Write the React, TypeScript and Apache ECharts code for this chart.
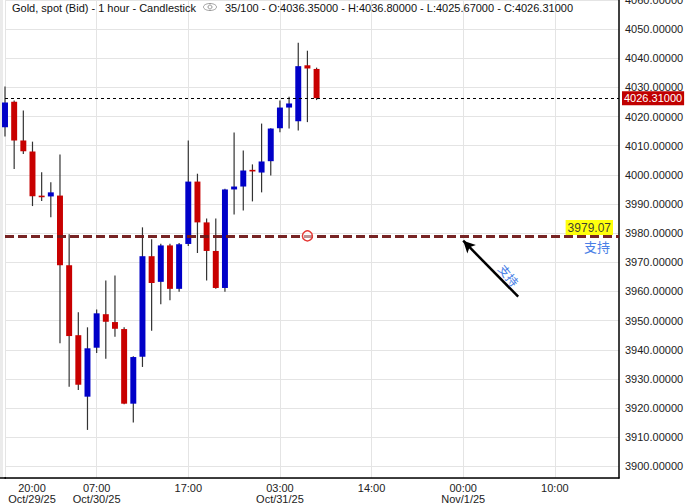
import React, { useEffect, useRef } from "react";
import * as echarts from "echarts";

// ---- data ----
const opens = [4016.3, 4025.1, 4011.8, 4008.0, 3992.8, 3992.6, 3992.9, 3969.0, 3945.0, 3923.9, 3940.7, 3952.2, 3949.5, 3947.1, 3921.5, 3937.6, 3972.1, 3963.3, 3975.8, 3960.9, 3976.3, 3997.7, 3983.7, 3973.9, 3961.2, 3995.0, 3996.0, 4001.6, 4000.8, 4004.7, 4016.0, 4023.1, 4018.4, 4037.6, 4036.35];
const closes = [4024.8, 4011.8, 4008.1, 3992.7, 3992.4, 3994.0, 3969.0, 3944.7, 3928.0, 3940.5, 3952.5, 3949.6, 3947.2, 3921.5, 3937.5, 3972.1, 3962.9, 3975.8, 3960.9, 3976.2, 3997.7, 3983.7, 3973.9, 3961.2, 3995.0, 3996.0, 4001.5, 4001.3, 4004.6, 4015.9, 4023.1, 4024.5, 4037.3, 4036.5, 4026.31];
const lows = [4013.2, 4002.0, 4007.2, 3989.3, 3991.0, 3985.5, 3942.2, 3927.3, 3926.2, 3912.5, 3938.9, 3936.9, 3944.5, 3921.3, 3915.0, 3934.1, 3946.5, 3955.6, 3957.0, 3959.9, 3975.6, 3973.2, 3963.8, 3960.9, 3959.9, 3986.4, 3987.8, 3990.9, 3994.0, 3999.8, 4014.6, 4015.9, 4015.2, 4018.1, 4025.67];
const highs = [4030.3, 4025.5, 4022.1, 4011.4, 4000.9, 3997.5, 4007.0, 3979.6, 3952.9, 3947.7, 3953.8, 3963.8, 3965.5, 3947.7, 3937.8, 3982.0, 3977.9, 3976.4, 3976.4, 3976.6, 4011.8, 4000.4, 3985.0, 3985.0, 3995.2, 4014.5, 4008.4, 4003.6, 4017.6, 4016.0, 4025.5, 4026.8, 4045.3, 4042.6, 4036.8];

const slotCount = 68; // hourly slots visible on the axis
const categories = Array.from({ length: slotCount }, (_, i) => String(i));
const tickLabels = [
  ["20:00", "Oct/29/25"],
  ["07:00", "Oct/30/25"],
  ["17:00", ""],
  ["03:00", "Oct/31/25"],
  ["14:00", ""],
  ["00:00", "Nov/1/25"],
  ["10:00", ""],
];
const tickEvery = 10;

const lastClose = 4026.31;
const supportLevel = 3979.07;
const supportLabel = "3979.07";
const supportText = "支持";
const markerIndex = 33;
const arrowFrom = [56, 3958.2];
const arrowTo = [50, 3977.4];

const headerLeft = "Gold, spot (Bid) - 1 hour - Candlestick";
const headerRight = "35/100 - O:4036.35000 - H:4036.80000 - L:4025.67000 - C:4026.31000";

const UP = "#0000c8";
const DOWN = "#c80000";
const WICK = "#333333";
const FONT = "Liberation Sans, Arial, sans-serif";

export default function App() {
  const ref = useRef<HTMLDivElement>(null);
  useEffect(() => {
    if (!ref.current) return;
    const chart = echarts.init(ref.current, null, { renderer: "svg" });
    const data = opens.map((o, i) => [i, o, closes[i], lows[i], highs[i]]);
    chart.setOption({
      animation: false,
      backgroundColor: "#ffffff",
      grid: { left: 5, right: 67, top: 0, bottom: 25, containLabel: false, outerBoundsMode: "none" },
      xAxis: {
        type: "category",
        data: categories,
        boundaryGap: false,
        axisLine: { show: true, lineStyle: { color: "#000", width: 1.5 } },
        axisTick: { show: false },
        splitLine: { show: true, interval: tickEvery - 1, lineStyle: { color: "#e4e4e4", width: 1 } },
        axisLabel: {
          interval: tickEvery - 1,
          color: "#222",
          fontSize: 11,
          fontFamily: FONT,
          lineHeight: 11,
          margin: 4,
          alignMinLabel: "left",
          formatter: (_v: string, idx: number) => {
            const t = tickLabels[Math.round(idx / tickEvery)];
            if (!t) return "";
            if (idx === 0) return `{f|${t[0]}}\n{f|${t[1]}}`;
            return t[1] ? `${t[0]}\n${t[1]}` : t[0];
          },
          rich: {
            f: { width: 54, align: "center", fontSize: 11, lineHeight: 11, color: "#222", fontFamily: FONT },
          },
        },
      },
      yAxis: {
        type: "value",
        position: "right",
        min: 3896,
        max: 4060,
        splitNumber: 16,
        axisLine: { show: true, lineStyle: { color: "#000", width: 1.5 } },
        axisTick: { show: false },
        splitLine: { show: true, lineStyle: { color: "#e4e4e4", width: 1 } },
        axisLabel: {
          color: "#222",
          fontSize: 11,
          fontFamily: FONT,
          margin: 6,
          showMinLabel: false,
          formatter: (v: number) => v.toFixed(5),
        },
      },
      series: [
        {
          type: "custom",
          data,
          encode: { x: 0, y: [1, 2, 3, 4] },
          clip: false,
          renderItem: (_params: any, api: any) => {
            const x = api.value(0);
            const o = api.value(1);
            const c = api.value(2);
            const l = api.value(3);
            const h = api.value(4);
            const pO = api.coord([x, o]);
            const pC = api.coord([x, c]);
            const pL = api.coord([x, l]);
            const pH = api.coord([x, h]);
            const w = api.size([1, 0])[0] * 0.65;
            const top = Math.min(pO[1], pC[1]);
            let hgt = Math.abs(pO[1] - pC[1]);
            let y0 = top;
            if (hgt < 1.6) {
              y0 = (pO[1] + pC[1]) / 2 - 0.8;
              hgt = 1.6;
            }
            return {
              type: "group",
              children: [
                {
                  type: "line",
                  shape: { x1: pH[0], y1: pH[1], x2: pL[0], y2: pL[1] },
                  style: { stroke: WICK, lineWidth: 1.2 },
                },
                {
                  type: "rect",
                  shape: { x: pO[0] - w / 2, y: y0, width: w, height: hgt },
                  style: { fill: c >= o ? UP : DOWN },
                },
              ],
            };
          },
          markLine: {
            silent: true,
            symbol: ["none", "none"],
            animation: false,
            data: [
              {
                yAxis: lastClose,
                lineStyle: { color: "#000", type: [3, 3], width: 1 },
                label: {
                  show: true,
                  position: "end",
                  formatter: lastClose.toFixed(5),
                  backgroundColor: "#c00000",
                  color: "#fff",
                  fontSize: 11,
                  fontFamily: FONT,
                  padding: [2, 2, 1, 2],
                  distance: 3,
                },
              },
              {
                yAxis: supportLevel,
                lineStyle: { color: "#701818", type: [9, 4], width: 3, opacity: 0.95 },
                label: {
                  show: true,
                  position: "insideEndTop",
                  formatter: supportLabel,
                  backgroundColor: "#ffff00",
                  color: "#333",
                  fontSize: 12,
                  fontFamily: FONT,
                  padding: [2, 2, 1, 2],
                  distance: [6, 1],
                },
              },
              {
                yAxis: supportLevel,
                lineStyle: { color: "rgba(0,0,0,0)", width: 0 },
                label: {
                  show: true,
                  position: "insideEndBottom",
                  formatter: supportText,
                  color: "#4a7fe6",
                  fontSize: 13,
                  fontFamily: "Noto Sans CJK SC",
                  distance: [9, 4],
                },
              },
              [
                { coord: arrowFrom, symbol: "none", lineStyle: { color: "#000", width: 2.5, type: "solid" }, label: { show: false } },
                { coord: arrowTo, symbol: "arrow", symbolSize: [9, 12] },
              ],
            ],
          },
          markPoint: {
            silent: true,
            animation: false,
            data: [
              {
                coord: [markerIndex, supportLevel],
                symbol: "circle",
                symbolSize: 10,
                itemStyle: { color: "rgba(255,255,255,0.5)", borderColor: "#e53935", borderWidth: 1.5 },
                label: { show: false },
              },
            ],
          },
        },
      ],
      graphic: [
        { type: "rect", shape: { x: 0, y: 0, width: 3, height: 478 }, style: { fill: "#ebebeb" }, z: 0 },
        { type: "line", shape: { x1: 0, y1: 478, x2: 6, y2: 478 }, style: { stroke: "#000", lineWidth: 1.5 }, z: 10 },
        {
          type: "text",
          x: 12,
          y: 2,
          style: { text: headerLeft, font: `11px ${FONT}`, fill: "#111", verticalAlign: "top" },
          z: 10,
        },
        {
          type: "group",
          x: 210,
          y: 7,
          z: 10,
          children: [
            { type: "ellipse", shape: { cx: 0, cy: 0, rx: 6.5, ry: 3.5 }, style: { fill: "none", stroke: "#999", lineWidth: 1 } },
            { type: "circle", shape: { cx: 0, cy: 0, r: 2 }, style: { fill: "none", stroke: "#999", lineWidth: 1 } },
          ],
        },
        {
          type: "text",
          x: 225,
          y: 2,
          style: { text: headerRight, font: `11px ${FONT}`, fill: "#111", verticalAlign: "top" },
          z: 10,
        },
        {
          type: "text",
          x: 509,
          y: 275,
          rotation: -0.89,
          style: {
            text: supportText,
            font: "12px Noto Sans CJK SC",
            fill: "#4a7fe6",
            align: "center",
            verticalAlign: "middle",
          },
          z: 10,
        },
      ],
    });
    return () => chart.dispose();
  }, []);
  return (
    <div
      ref={ref}
      style={{ position: "fixed", left: 0, top: 0, width: 686, height: 503, background: "#fff" }}
    />
  );
}
